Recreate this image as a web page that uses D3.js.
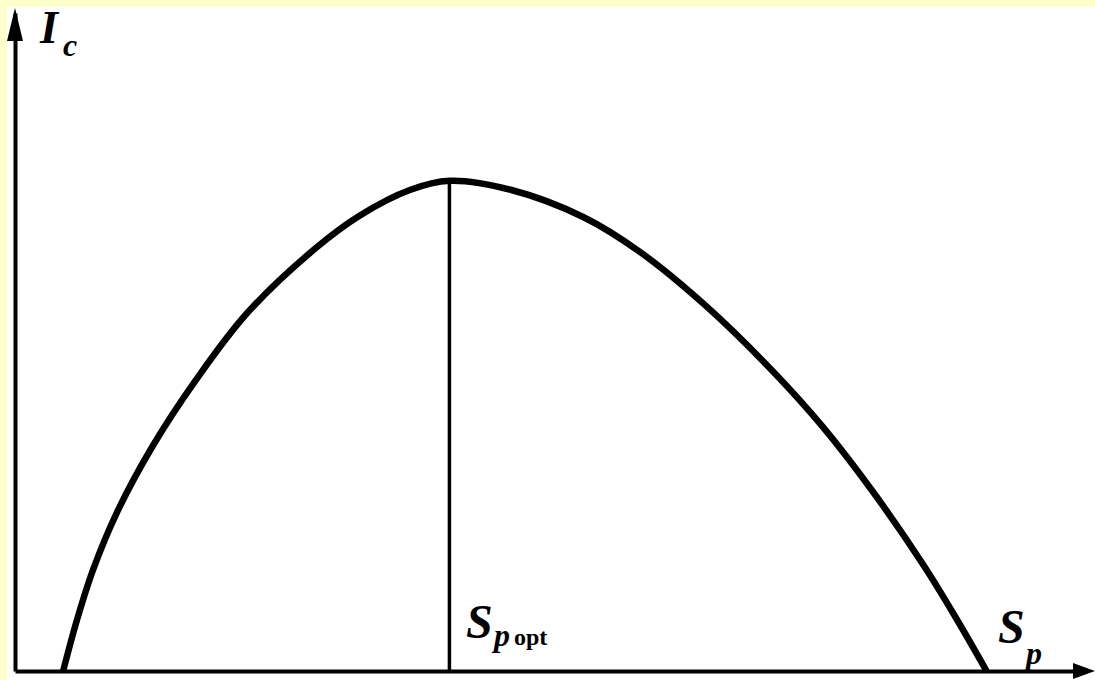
<!DOCTYPE html>
<html><head><meta charset="utf-8">
<script src="https://cdn.jsdelivr.net/npm/d3@7"></script>
<style>
html,body{margin:0;padding:0;background:#FFFFCC;}
svg{display:block;}
</style></head>
<body>
<script>
// Data (arbitrary units): S_p on x, I_c on y
const spValues = [4.5, 5.8, 7.3, 9.5, 12.8, 16.9, 21.7, 28.2, 32.2, 36.9, 40.6, 46.4, 53.1, 58.4, 64.7, 70.8, 75.5, 80.2, 84.9, 88.0, 90.8];
const icValues = [0, 7.8, 15.4, 24.0, 34.0, 44.2, 54.4, 64.4, 69.2, 73.1, 74.5, 73.1, 69.0, 63.7, 55.3, 45.6, 37.1, 27.2, 16.1, 7.9, 0];
const spOpt = 40.6;
const icMax = 74.5;
const labels = {y: ["I", "c"], x: ["S", "p"], opt: ["S", "p", "opt"]};

const W = 1095, H = 680;
const svg = d3.select("body").append("svg").attr("width", W).attr("height", H);
svg.append("rect").attr("x", 7).attr("y", 7).attr("width", W - 7).attr("height", H - 7).attr("fill", "#fff");

const x = d3.scaleLinear().domain([0, 100]).range([15, 1085]);
const y = d3.scaleLinear().domain([0, 100]).range([671, 13]);

// axes (no ticks)
const gx = svg.append("g").attr("transform", `translate(0,${y(0)})`)
  .call(d3.axisBottom(x).tickValues([]).tickSizeOuter(0));
const gy = svg.append("g").attr("transform", `translate(${x(0)},0)`)
  .call(d3.axisLeft(y).tickValues([]).tickSizeOuter(0));
[gx, gy].forEach(g => g.select(".domain").attr("stroke", "#000").attr("stroke-width", 4));

// arrow heads
const x0 = x(0), y0 = y(0);
svg.append("path").attr("d", `M${x0},${y(100) - 5} L${x0 - 8},${y(100) + 28} L${x0 + 8},${y(100) + 28} Z`).attr("fill", "#000");
svg.append("path").attr("d", `M${x(100) + 10},${y0} L${x(100) - 12},${y0 - 8} L${x(100) - 12},${y0 + 8} Z`).attr("fill", "#000");

// curve
const pts = spValues.map((v, i) => [v, icValues[i]]);
svg.append("path").datum(pts)
  .attr("d", d3.line().x(d => x(d[0])).y(d => y(d[1])).curve(d3.curveCatmullRom.alpha(0.5)))
  .attr("fill", "none").attr("stroke", "#000").attr("stroke-width", 6.5).attr("stroke-linejoin", "round");

// optimum vertical line
svg.append("line").attr("x1", x(spOpt)).attr("x2", x(spOpt)).attr("y1", y(0)).attr("y2", y(icMax))
  .attr("stroke", "#000").attr("stroke-width", 3.5);

const font = "'Liberation Serif', 'Times New Roman', serif";
function txt(tx, ty, s, size, italic) {
  svg.append("text").attr("x", tx).attr("y", ty).text(s)
    .attr("font-family", font).attr("font-weight", "bold")
    .attr("font-style", italic ? "italic" : "normal").attr("font-size", size).attr("fill", "#000");
}
// I_c
txt(40, 43, labels.y[0], 46, true);
txt(63, 56, labels.y[1], 32, true);
// S_p opt
txt(466, 638, labels.opt[0], 48, true);
txt(494, 646, labels.opt[1], 32, true);
txt(514, 645, labels.opt[2], 24, false);
// S_p
txt(998, 643, labels.x[0], 48, true);
txt(1026, 664, labels.x[1], 32, true);
</script>
</body></html>
